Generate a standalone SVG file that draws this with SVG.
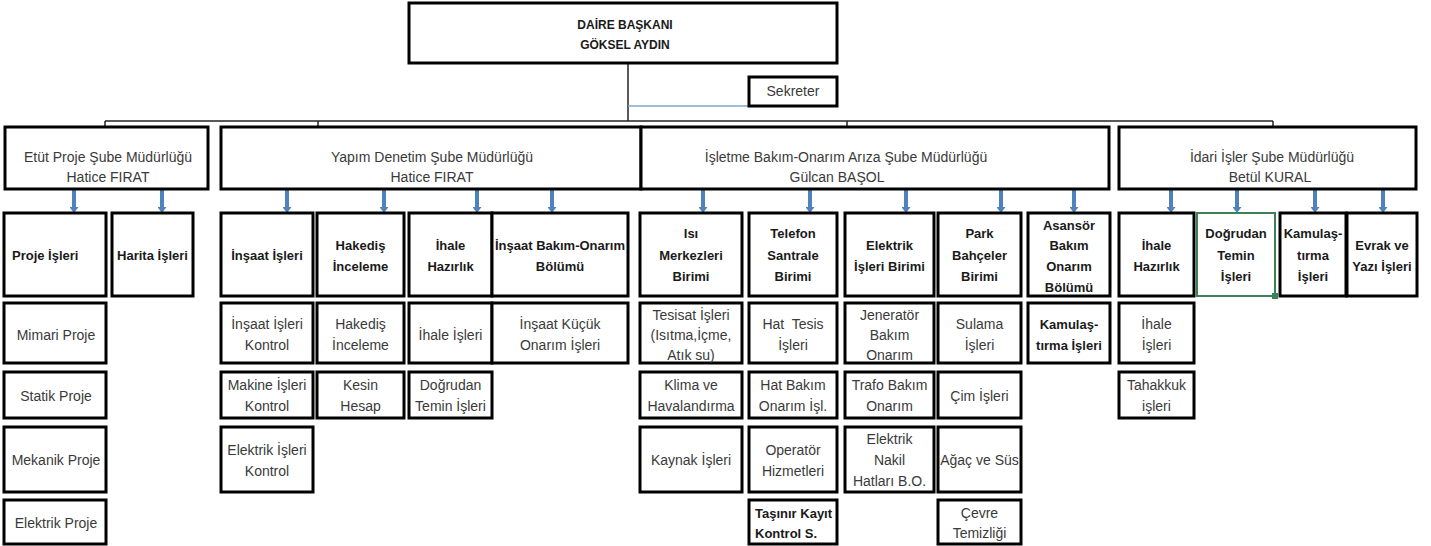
<svg xmlns="http://www.w3.org/2000/svg" width="1431" height="546" viewBox="0 0 1431 546">
<defs>
<style>
.b{fill:#fff;stroke:#000;stroke-width:3}
.g{fill:#fff;stroke:#3d8159;stroke-width:2}
.t{font-family:"Liberation Sans",Arial,sans-serif;font-size:14px;fill:#3a3a3a;text-anchor:middle}
.tb{font-family:"Liberation Sans",Arial,sans-serif;font-size:13px;font-weight:bold;fill:#1a1a1a;text-anchor:middle}
.tl{text-anchor:start}
.ln{stroke:#222;stroke-width:1.5;fill:none}
.ar{stroke:#4f81bd;stroke-width:4;fill:none;marker-end:url(#ah)}
</style>
<marker id="ah" markerUnits="userSpaceOnUse" markerWidth="9" markerHeight="6" viewBox="0 0 9 6" refX="4.5" refY="0" orient="0">
<path d="M0,0 L9,0 L4.5,6 Z" fill="#4f81bd"/>
</marker>
</defs>
<rect width="1431" height="546" fill="#fff"/>

<g id="connectors">
<line class="ln" x1="628" y1="63" x2="628" y2="121"/>
<line x1="628" y1="106" x2="749" y2="106" stroke="#7fa7d0" stroke-width="1.5"/>
<line class="ln" x1="105" y1="121" x2="1273" y2="121"/>
<line class="ln" x1="105" y1="121" x2="105" y2="127"/>
<line class="ln" x1="318" y1="121" x2="318" y2="127"/>
<line class="ln" x1="847" y1="121" x2="847" y2="127"/>
<line class="ln" x1="1273" y1="121" x2="1273" y2="127"/>
<line class="ar" x1="74" y1="190" x2="74" y2="207"/>
<line class="ar" x1="162" y1="190" x2="162" y2="207"/>
<line class="ar" x1="287" y1="190" x2="287" y2="207"/>
<line class="ar" x1="384" y1="190" x2="384" y2="207"/>
<line class="ar" x1="477" y1="190" x2="477" y2="207"/>
<line class="ar" x1="552" y1="190" x2="552" y2="207"/>
<line class="ar" x1="703" y1="190" x2="703" y2="207"/>
<line class="ar" x1="810" y1="190" x2="810" y2="207"/>
<line class="ar" x1="906" y1="190" x2="906" y2="207"/>
<line class="ar" x1="1001" y1="190" x2="1001" y2="207"/>
<line class="ar" x1="1074" y1="190" x2="1074" y2="207"/>
<line class="ar" x1="1171" y1="190" x2="1171" y2="207"/>
<line class="ar" x1="1237" y1="190" x2="1237" y2="207"/>
<line class="ar" x1="1315" y1="190" x2="1315" y2="207"/>
<line class="ar" x1="1383" y1="190" x2="1383" y2="207"/>
</g>

<g id="daire"><rect class="b" x="409" y="3" width="428" height="60"/>
<text class="tb" x="625" y="29" style="font-size:12px">DAİRE BAŞKANI</text>
<text class="tb" x="625" y="49" style="font-size:12px">GÖKSEL AYDIN</text></g>
<g id="sekreter"><rect class="b" x="749" y="77" width="88" height="29"/>
<text class="t" x="793" y="96">Sekreter</text></g>

<g id="etut"><rect class="b" x="5" y="127" width="203" height="62"/>
<text class="t" x="108" y="162">Etüt Proje Şube Müdürlüğü</text>
<text class="t" x="108" y="182">Hatice FIRAT</text></g>
<g id="yapim"><rect class="b" x="221" y="127" width="420" height="62"/>
<text class="t" x="432" y="162">Yapım Denetim Şube Müdürlüğü</text>
<text class="t" x="432" y="182">Hatice FIRAT</text></g>
<g id="isletme"><rect class="b" x="641" y="127" width="468" height="62"/>
<text class="t" x="846" y="162">İşletme Bakım-Onarım Arıza Şube Müdürlüğü</text>
<text class="t" x="837" y="182">Gülcan BAŞOL</text></g>
<g id="idari"><rect class="b" x="1119" y="127" width="297" height="62"/>
<text class="t" x="1272" y="162">İdari İşler Şube Müdürlüğü</text>
<text class="t" x="1270" y="182">Betül KURAL</text></g>

<!-- C1 -->
<g id="proje-isleri"><rect class="b" x="4" y="213" width="102" height="83"/>
<text class="tb tl" x="12" y="260">Proje İşleri</text></g>
<g id="mimari"><rect class="b" x="4" y="303" width="102" height="60"/>
<text class="t" x="56" y="340">Mimari Proje</text></g>
<g id="statik"><rect class="b" x="4" y="372" width="102" height="46"/>
<text class="t" x="56" y="401">Statik Proje</text></g>
<g id="mekanik"><rect class="b" x="4" y="427" width="102" height="65"/>
<text class="t" x="56" y="465">Mekanik Proje</text></g>
<g id="elektrik-proje"><rect class="b" x="4" y="500" width="102" height="44"/>
<text class="t" x="56" y="528">Elektrik Proje</text></g>

<!-- C2 -->
<g id="harita"><rect class="b" x="112" y="213" width="81" height="83"/>
<text class="tb" x="152.5" y="260">Harita İşleri</text></g>

<!-- C3 -->
<g id="insaat-isleri"><rect class="b" x="221" y="213" width="92" height="83"/>
<text class="tb" x="267" y="260">İnşaat İşleri</text></g>
<g id="insaat-kontrol"><rect class="b" x="221" y="303" width="92" height="60"/>
<text class="t" x="267" y="329">İnşaat İşleri</text><text class="t" x="267" y="350">Kontrol</text></g>
<g id="makine-kontrol"><rect class="b" x="221" y="372" width="92" height="46"/>
<text class="t" x="267" y="390">Makine İşleri</text><text class="t" x="267" y="411">Kontrol</text></g>
<g id="elektrik-kontrol"><rect class="b" x="221" y="427" width="92" height="65"/>
<text class="t" x="267" y="455">Elektrik İşleri</text><text class="t" x="267" y="476">Kontrol</text></g>

<!-- C4 -->
<g id="hakedis"><rect class="b" x="317" y="213" width="87" height="83"/>
<text class="tb" x="360.5" y="250">Hakediş</text><text class="tb" x="360.5" y="271">İnceleme</text></g>
<g id="hakedis-inceleme"><rect class="b" x="317" y="303" width="87" height="60"/>
<text class="t" x="360.5" y="329">Hakediş</text><text class="t" x="360.5" y="350">İnceleme</text></g>
<g id="kesin-hesap"><rect class="b" x="317" y="372" width="87" height="46"/>
<text class="t" x="360.5" y="390">Kesin</text><text class="t" x="360.5" y="411">Hesap</text></g>

<!-- C5 -->
<g id="ihale-hazirlik-1"><rect class="b" x="409" y="213" width="83" height="83"/>
<text class="tb" x="450.5" y="250">İhale</text><text class="tb" x="450.5" y="271">Hazırlık</text></g>
<g id="ihale-isleri-1"><rect class="b" x="409" y="303" width="83" height="60"/>
<text class="t" x="450.5" y="340">İhale İşleri</text></g>
<g id="dogrudan-1"><rect class="b" x="409" y="372" width="83" height="46"/>
<text class="t" x="450.5" y="390">Doğrudan</text><text class="t" x="450.5" y="411">Temin İşleri</text></g>

<!-- C6 -->
<g id="insaat-bakim"><rect class="b" x="492" y="213" width="136" height="83"/>
<text class="tb" x="560" y="250">İnşaat Bakım-Onarım</text><text class="tb" x="560" y="271">Bölümü</text></g>
<g id="insaat-kucuk"><rect class="b" x="492" y="303" width="136" height="60"/>
<text class="t" x="560" y="329">İnşaat Küçük</text><text class="t" x="560" y="350">Onarım İşleri</text></g>

<!-- C7 -->
<g id="isi"><rect class="b" x="640" y="213" width="102" height="83"/>
<text class="tb" x="691" y="238">Isı</text><text class="tb" x="691" y="260">Merkezleri</text><text class="tb" x="691" y="281">Birimi</text></g>
<g id="tesisat"><rect class="b" x="640" y="303" width="102" height="60"/>
<text class="t" x="691" y="320">Tesisat İşleri</text><text class="t" x="691" y="340">(Isıtma,İçme,</text><text class="t" x="691" y="360">Atık su)</text></g>
<g id="klima"><rect class="b" x="640" y="372" width="102" height="46"/>
<text class="t" x="691" y="390">Klima ve</text><text class="t" x="691" y="411">Havalandırma</text></g>
<g id="kaynak"><rect class="b" x="640" y="427" width="102" height="65"/>
<text class="t" x="691" y="465">Kaynak İşleri</text></g>

<!-- C8 -->
<g id="telefon"><rect class="b" x="749" y="213" width="88" height="83"/>
<text class="tb" x="793" y="238">Telefon</text><text class="tb" x="793" y="260">Santrale</text><text class="tb" x="793" y="281">Birimi</text></g>
<g id="hat-tesis"><rect class="b" x="749" y="303" width="88" height="60"/>
<text class="t" x="793" y="329" xml:space="preserve">Hat  Tesis</text><text class="t" x="793" y="350">İşleri</text></g>
<g id="hat-bakim"><rect class="b" x="749" y="372" width="88" height="46"/>
<text class="t" x="793" y="390">Hat Bakım</text><text class="t" x="793" y="411">Onarım İşl.</text></g>
<g id="operator"><rect class="b" x="749" y="427" width="88" height="65"/>
<text class="t" x="793" y="455">Operatör</text><text class="t" x="793" y="476">Hizmetleri</text></g>
<g id="tasinir"><rect class="b" x="749" y="500" width="88" height="44"/>
<text class="tb tl" x="755" y="518">Taşınır Kayıt</text><text class="tb tl" x="755" y="538">Kontrol S.</text></g>

<!-- C9 -->
<g id="elektrik-birimi"><rect class="b" x="845" y="213" width="89" height="83"/>
<text class="tb" x="889.5" y="250">Elektrik</text><text class="tb" x="889.5" y="271">İşleri Birimi</text></g>
<g id="jenerator"><rect class="b" x="845" y="303" width="89" height="60"/>
<text class="t" x="889.5" y="320">Jeneratör</text><text class="t" x="889.5" y="340">Bakım</text><text class="t" x="889.5" y="360">Onarım</text></g>
<g id="trafo"><rect class="b" x="845" y="372" width="89" height="46"/>
<text class="t" x="889.5" y="390">Trafo Bakım</text><text class="t" x="889.5" y="411">Onarım</text></g>
<g id="nakil"><rect class="b" x="845" y="427" width="89" height="65"/>
<text class="t" x="889.5" y="444">Elektrik</text><text class="t" x="889.5" y="465">Nakil</text><text class="t" x="889.5" y="486">Hatları B.O.</text></g>

<!-- C10 -->
<g id="park"><rect class="b" x="938" y="213" width="83" height="83"/>
<text class="tb" x="979.5" y="238">Park</text><text class="tb" x="979.5" y="260">Bahçeler</text><text class="tb" x="979.5" y="281">Birimi</text></g>
<g id="sulama"><rect class="b" x="938" y="303" width="83" height="60"/>
<text class="t" x="979.5" y="329">Sulama</text><text class="t" x="979.5" y="350">İşleri</text></g>
<g id="cim"><rect class="b" x="938" y="372" width="83" height="46"/>
<text class="t" x="979.5" y="401">Çim İşleri</text></g>
<g id="agac"><rect class="b" x="938" y="427" width="83" height="65"/>
<text class="t" x="979.5" y="465">Ağaç ve Süs</text></g>
<g id="cevre"><rect class="b" x="938" y="500" width="83" height="44"/>
<text class="t" x="979.5" y="518">Çevre</text><text class="t" x="979.5" y="538">Temizliği</text></g>

<!-- C11 -->
<g id="asansor"><rect class="b" x="1028" y="213" width="82" height="83"/>
<text class="tb" x="1069" y="230">Asansör</text><text class="tb" x="1069" y="250">Bakım</text><text class="tb" x="1069" y="271">Onarım</text><text class="tb" x="1069" y="292">Bölümü</text></g>
<g id="kamulastirma-2"><rect class="b" x="1028" y="303" width="82" height="60"/>
<text class="tb" x="1069" y="329">Kamulaş-</text><text class="tb" x="1069" y="350">tırma İşleri</text></g>

<!-- C12 -->
<g id="ihale-hazirlik-2"><rect class="b" x="1119" y="213" width="75" height="83"/>
<text class="tb" x="1156.5" y="250">İhale</text><text class="tb" x="1156.5" y="271">Hazırlık</text></g>
<g id="ihale-isleri-2"><rect class="b" x="1119" y="303" width="75" height="60"/>
<text class="t" x="1156.5" y="329">İhale</text><text class="t" x="1156.5" y="350">İşleri</text></g>
<g id="tahakkuk"><rect class="b" x="1119" y="372" width="75" height="46"/>
<text class="t" x="1156.5" y="390">Tahakkuk</text><text class="t" x="1156.5" y="411">işleri</text></g>

<!-- C13 -->
<g id="dogrudan-2"><rect class="g" x="1197" y="213" width="78" height="83"/>
<rect x="1272" y="293" width="6" height="6" fill="#3d8159"/>
<text class="tb" x="1236" y="238">Doğrudan</text><text class="tb" x="1236" y="260">Temin</text><text class="tb" x="1236" y="281">İşleri</text></g>

<!-- C14 -->
<g id="kamulastirma-1"><rect class="b" x="1280" y="213" width="66" height="83"/>
<text class="tb" x="1313" y="238">Kamulaş-</text><text class="tb" x="1313" y="260">tırma</text><text class="tb" x="1313" y="281">İşleri</text></g>

<!-- C15 -->
<g id="evrak"><rect class="b" x="1347" y="213" width="70" height="83"/>
<text class="tb" x="1382" y="250">Evrak ve</text><text class="tb" x="1382" y="271">Yazı İşleri</text></g>
</svg>
